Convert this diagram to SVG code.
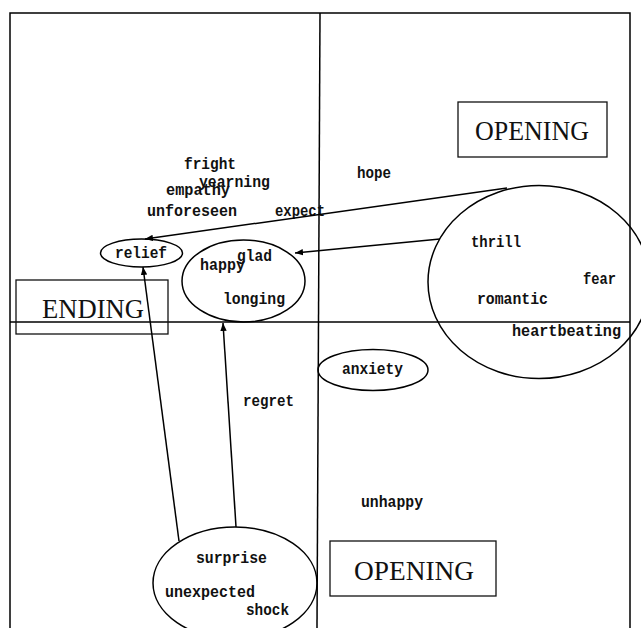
<svg xmlns="http://www.w3.org/2000/svg" width="641" height="628" viewBox="0 0 641 628">
<style>
.frame{fill:none;stroke:#000;stroke-width:1.5}
.shape{fill:none;stroke:#000;stroke-width:1.5}
.box{fill:none;stroke:#111;stroke-width:1.3}
.w{font-family:"Liberation Mono","DejaVu Sans Mono",monospace;font-size:17px;font-weight:bold;fill:#111}
.big{font-family:"Liberation Serif","Times New Roman",serif;font-size:27px;fill:#111}
.conn{stroke:#000;stroke-width:1.5;fill:none;marker-end:url(#ah)}
</style>
<defs>
<marker id="ah" viewBox="0 0 10 10" refX="10" refY="5" markerWidth="8" markerHeight="8" markerUnits="userSpaceOnUse" orient="auto">
<path d="M0,1 L10,5 L0,9 Z" fill="#000"/>
</marker>
</defs>
<rect width="641" height="628" fill="#fff"/>
<g id="frame">
<polyline class="frame" points="10,628 10,13 630,13 630,628"/>
<line class="frame" x1="320" y1="13" x2="317" y2="628"/>
<line class="frame" x1="10" y1="322" x2="630" y2="322"/>
</g>
<g id="opening-top">
<rect class="box" x="458" y="102" width="149" height="55"/>
<text class="big" x="532" y="140" text-anchor="middle" textLength="114" lengthAdjust="spacingAndGlyphs">OPENING</text>
</g>
<g id="ending">
<rect class="box" x="16" y="280" width="152" height="54"/>
<text class="big" x="42" y="318" textLength="102" lengthAdjust="spacingAndGlyphs">ENDING</text>
</g>
<g id="opening-bottom">
<rect class="box" x="330" y="541" width="166" height="55"/>
<text class="big" x="354" y="580" textLength="120" lengthAdjust="spacingAndGlyphs">OPENING</text>
</g>
<g id="words-free">
<text class="w" x="184" y="169" textLength="52" lengthAdjust="spacingAndGlyphs">fright</text>
<text class="w" x="199" y="187" textLength="71" lengthAdjust="spacingAndGlyphs">yearning</text>
<text class="w" x="166" y="195" textLength="64" lengthAdjust="spacingAndGlyphs">empathy</text>
<text class="w" x="147" y="216" textLength="90" lengthAdjust="spacingAndGlyphs">unforeseen</text>
<text class="w" x="275" y="216" textLength="50" lengthAdjust="spacingAndGlyphs">expect</text>
<text class="w" x="357" y="178" textLength="34" lengthAdjust="spacingAndGlyphs">hope</text>
<text class="w" x="243" y="406" textLength="51" lengthAdjust="spacingAndGlyphs">regret</text>
<text class="w" x="361" y="507" textLength="62" lengthAdjust="spacingAndGlyphs">unhappy</text>
</g>
<g id="relief">
<ellipse class="shape" cx="141.5" cy="253" rx="41" ry="14"/>
<text class="w" x="115" y="258" textLength="52" lengthAdjust="spacingAndGlyphs">relief</text>
</g>
<g id="glad-group">
<ellipse class="shape" cx="243.5" cy="281" rx="61.5" ry="41"/>
<text class="w" x="237" y="261" textLength="35" lengthAdjust="spacingAndGlyphs">glad</text>
<text class="w" x="200" y="270" textLength="45" lengthAdjust="spacingAndGlyphs">happy</text>
<text class="w" x="223" y="304" textLength="62" lengthAdjust="spacingAndGlyphs">longing</text>
</g>
<g id="thrill-group">
<ellipse class="shape" cx="539" cy="282" rx="111" ry="96.5"/>
<text class="w" x="471" y="247" textLength="50" lengthAdjust="spacingAndGlyphs">thrill</text>
<text class="w" x="583" y="284" textLength="33" lengthAdjust="spacingAndGlyphs">fear</text>
<text class="w" x="477" y="304" textLength="71" lengthAdjust="spacingAndGlyphs">romantic</text>
<text class="w" x="512" y="336" textLength="109" lengthAdjust="spacingAndGlyphs">heartbeating</text>
</g>
<g id="anxiety">
<ellipse class="shape" cx="373" cy="370" rx="55" ry="20.5"/>
<text class="w" x="342" y="374" textLength="61" lengthAdjust="spacingAndGlyphs">anxiety</text>
</g>
<g id="surprise-group">
<ellipse class="shape" cx="235" cy="583" rx="82" ry="56"/>
<text class="w" x="196" y="563" textLength="71" lengthAdjust="spacingAndGlyphs">surprise</text>
<text class="w" x="165" y="597" textLength="90" lengthAdjust="spacingAndGlyphs">unexpected</text>
<text class="w" x="246" y="615" textLength="43" lengthAdjust="spacingAndGlyphs">shock</text>
</g>
<g id="connectors">
<line class="conn" x1="507" y1="188" x2="145" y2="239"/>
<line class="conn" x1="440" y1="239" x2="295" y2="253"/>
<line class="conn" x1="179" y1="541" x2="143" y2="267"/>
<line class="conn" x1="236" y1="527" x2="223" y2="323"/>
</g>
</svg>
